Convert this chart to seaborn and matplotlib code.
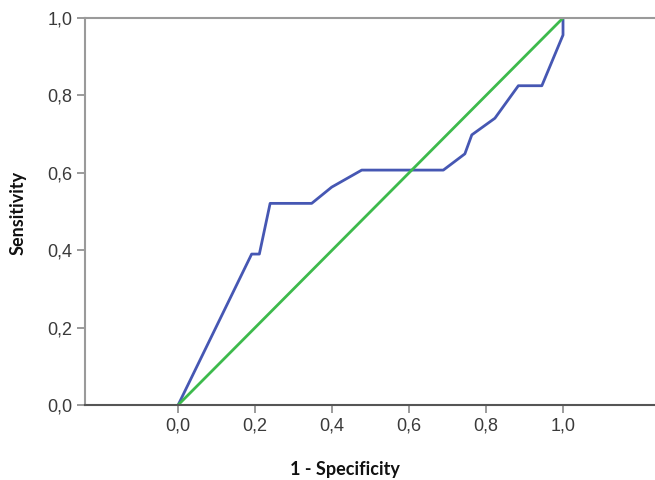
import matplotlib
matplotlib.use("Agg")
import matplotlib.pyplot as plt
import seaborn as sns
import pandas as pd
from matplotlib.ticker import FuncFormatter, FixedLocator

# ROC curve points
fpr = [0.0, 0.191, 0.211, 0.239, 0.347, 0.399, 0.477, 0.689, 0.745,
       0.763, 0.823, 0.884, 0.945, 1.0, 1.0]
tpr = [0.0, 0.390, 0.390, 0.521, 0.521, 0.563, 0.607, 0.607, 0.649,
       0.698, 0.741, 0.825, 0.825, 0.956, 1.0]
ref_x = [0.0, 1.0]
ref_y = [0.0, 1.0]
ticks = [0.0, 0.2, 0.4, 0.6, 0.8, 1.0]

BLUE = "#4657b3"
GREEN = "#3dba4c"

sns.set_theme(style="white")
plt.rcParams["font.family"] = ["Liberation Sans", "DejaVu Sans"]

fig = plt.figure(figsize=(6.55, 4.8), dpi=100)
ax = fig.add_axes([85 / 655, 1 - 405 / 480, 1 - 85 / 655, (405 - 18) / 480])

roc = pd.DataFrame({"fpr": fpr, "tpr": tpr})
ref = pd.DataFrame({"x": ref_x, "y": ref_y})
sns.lineplot(data=roc, x="fpr", y="tpr", sort=False, estimator=None,
             color=BLUE, linewidth=2.0, ax=ax)
sns.lineplot(data=ref, x="x", y="y", sort=False, estimator=None,
             color=GREEN, linewidth=2.0, ax=ax)

ax.set_xlim(-0.242, 1.239)
ax.set_ylim(0, 1)
ax.xaxis.set_major_locator(FixedLocator(ticks))
ax.yaxis.set_major_locator(FixedLocator(ticks))
comma = FuncFormatter(lambda v, _: f"{v:.1f}".replace(".", ","))
ax.xaxis.set_major_formatter(comma)
ax.yaxis.set_major_formatter(comma)
ax.tick_params(axis="both", direction="out", length=6, width=1.2,
               color="#8a8a8a", labelsize=13, labelcolor="#3a3a3a", pad=3)
ax.tick_params(axis="x", bottom=True)
ax.tick_params(axis="y", left=True)

for side in ["left", "top"]:
    ax.spines[side].set_color("#9a9a9a")
    ax.spines[side].set_linewidth(1.5)
ax.spines["bottom"].set_color("#555555")
ax.spines["bottom"].set_linewidth(1.5)
ax.spines["right"].set_visible(False)

ax.set_xlabel("1 - Specificity", fontsize=13, fontweight="bold",
              family=["Lato", "DejaVu Sans"], color="#111111")
ax.set_ylabel("Sensitivity", fontsize=13, fontweight="bold",
              family=["Lato", "DejaVu Sans"], color="#111111")
ax.xaxis.set_label_coords((345 - 85) / 570, -(461 - 405) / 387)
ax.yaxis.set_label_coords(-(85 - 27) / 570, (405 - 213) / 387)

fig.savefig("out.png", dpi=100)
